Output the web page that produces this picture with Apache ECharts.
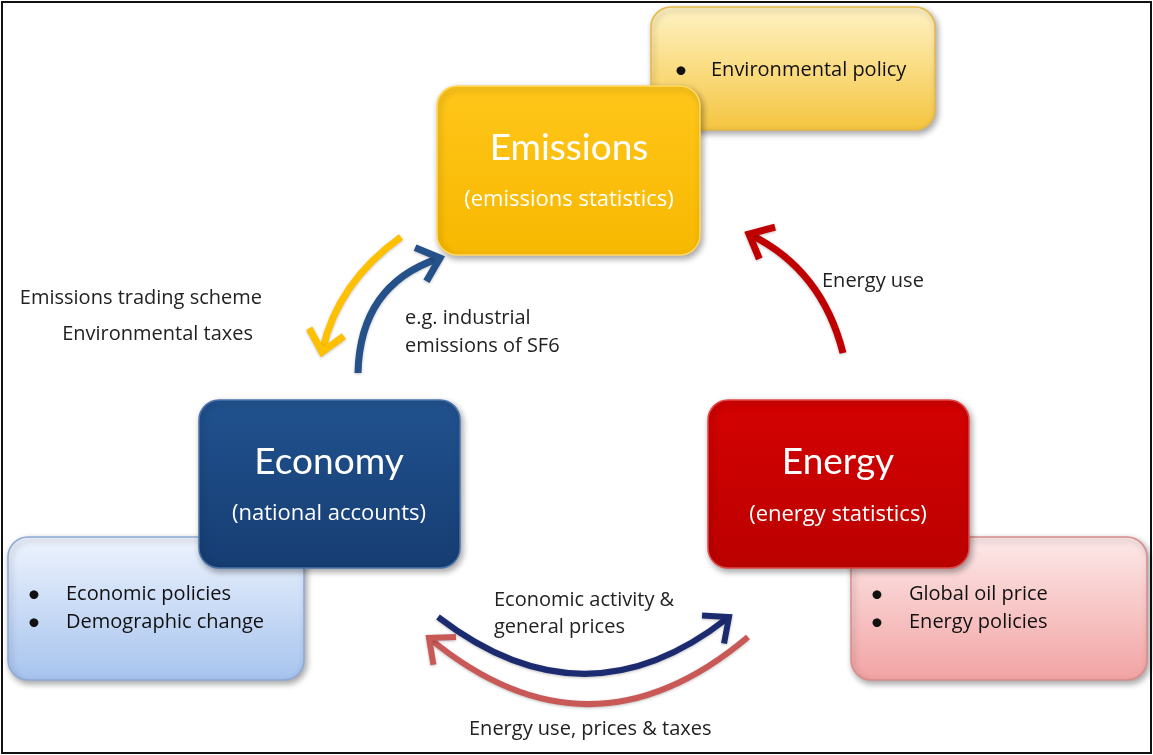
<!DOCTYPE html>
<html>
<head>
<meta charset="utf-8">
<script src="https://cdn.jsdelivr.net/npm/echarts@6.0.0/dist/echarts.min.js"></script>
<style>
  html, body { margin: 0; padding: 0; background: #fff; }
  #chart { width: 1153px; height: 755px; }
</style>
</head>
<body>
<div id="chart"></div>
<script>
  // diagram content
  var boxTitles = ['Emissions', 'Economy', 'Energy']
  var boxSubtitles = ['(emissions statistics)', '(national accounts)', '(energy statistics)']
  var envFactors = ['Environmental policy']
  var economyFactors = ['Economic policies', 'Demographic change']
  var energyFactors = ['Global oil price', 'Energy policies']
  var policyLabels = ['Emissions trading scheme', 'Environmental taxes']
  var industryLabels = ['e.g. industrial', 'emissions of SF6']
  var energyUseLabel = ['Energy use']
  var activityLabels = ['Economic activity &', 'general prices']
  var feedbackLabels = ['Energy use, prices & taxes']

  var TITLE_FONT = 'Lato, "Open Sans", sans-serif'
  var FONT = '"Open Sans", Lato, sans-serif'
  var chart = echarts.init(document.getElementById('chart'))

  function grad(c0, c1) {
    return new echarts.graphic.LinearGradient(0, 0, 0, 1, [
      { offset: 0, color: c0 },
      { offset: 1, color: c1 }
    ])
  }

  function box(x, y, w, h, c0, c1, stroke, z) {
    return {
      type: 'rect', z: z,
      shape: { x: x, y: y, width: w, height: h, r: 20 },
      style: {
        fill: grad(c0, c1), stroke: stroke, lineWidth: 1.5,
        shadowBlur: 6, shadowOffsetX: 2, shadowOffsetY: 3, shadowColor: 'rgba(0,0,0,0.35)'
      }
    }
  }

  function txt(str, x, y, size, color, align, z, family) {
    return {
      type: 'text', z: z || 20,
      style: {
        text: str, x: x, y: y, fill: color || '#222',
        font: size + 'px ' + (family || FONT), textAlign: align || 'left', textVerticalAlign: 'middle'
      }
    }
  }

  // bullet list inside a factor box
  function bullets(list, bx, tx, y0, step, z) {
    var out = []
    list.forEach(function (s, i) {
      out.push(txt('•', bx, y0 + i * step, 24, '#111', 'left', z, TITLE_FONT))
      out.push(txt(s, tx, y0 + i * step, 20, '#111', 'left', z))
    })
    return out
  }

  // curved arrow with open chevron head
  function arrow(p0, c, p1, color, w) {
    var dx = p1[0] - c[0], dy = p1[1] - c[1]
    var len = Math.sqrt(dx * dx + dy * dy)
    var bx = -dx / len, by = -dy / len
    var L = 27, a = 0.72
    function rot(ang) {
      return [p1[0] + L * (bx * Math.cos(ang) - by * Math.sin(ang)),
              p1[1] + L * (bx * Math.sin(ang) + by * Math.cos(ang))]
    }
    var st = { stroke: color, lineWidth: w, fill: null, shadowBlur: 3, shadowOffsetY: 1, shadowColor: 'rgba(0,0,0,0.25)' }
    return [
      { type: 'bezierCurve', z: 15,
        shape: { x1: p0[0], y1: p0[1], cpx1: c[0], cpy1: c[1], x2: p1[0] + bx * 2, y2: p1[1] + by * 2 },
        style: st },
      { type: 'polyline', z: 15,
        shape: { points: [rot(a), p1, rot(-a)] },
        style: Object.assign({}, st, { lineJoin: 'miter', lineCap: 'butt' }) }
    ]
  }

  var els = []
  // frame
  els.push({ type: 'rect', z: 1, shape: { x: 2, y: 2, width: 1149, height: 751 },
    style: { fill: '#fff', stroke: '#111', lineWidth: 2 } })

  // factor boxes (behind)
  els.push(box(651, 7, 284, 123, '#FFF3C4', '#F5C540', '#E6B84A', 5))
  els.push(box(8, 537, 296, 143, '#EEF4FE', '#A6C3EE', '#8EA9D6', 5))
  els.push(box(851, 537, 296, 143, '#FDE9E9', '#F2A3A3', '#D88C8C', 5))
  els = els.concat(bullets(envFactors, 674, 711, 70, 28, 12))
  els = els.concat(bullets(economyFactors, 27, 66, 594, 28, 12))
  els = els.concat(bullets(energyFactors, 870, 909, 594, 28, 12))

  // main boxes
  els.push(box(437, 86, 263, 169, '#FFC61A', '#F7B800', '#FFD966', 10))
  els.push(box(199, 400, 261, 168, '#21528F', '#163D72', '#4A74AA', 10))
  els.push(box(708, 400, 261, 168, '#D40202', '#BB0000', '#E04848', 10))
  var centers = [[569, 148, 200], [329, 462, 514], [838, 462, 515]]
  centers.forEach(function (c, i) {
    els.push(txt(boxTitles[i], c[0], c[1], 37, '#fff', 'center', 12, TITLE_FONT))
    els.push(txt(boxSubtitles[i], c[0], c[2], 22, '#fff', 'center', 12))
  })

  // arrows
  els = els.concat(arrow([401, 237], [338, 282], [322, 352], '#FFC000', 7))
  els = els.concat(arrow([358, 373], [360, 285], [440, 258], '#24518A', 7))
  els = els.concat(arrow([843, 353], [822, 270], [749, 234], '#C00000', 7))
  els = els.concat(arrow([438, 617], [585, 730], [729, 617], '#1C2B70', 6))
  els = els.concat(arrow([748, 637], [590, 770], [429, 638], '#C95957', 6))

  // flow labels
  els.push(txt(policyLabels[0], 262, 298, 20, '#222', 'right'))
  els.push(txt(policyLabels[1], 253, 334, 20, '#222', 'right'))
  els.push(txt(industryLabels[0], 405, 318, 20, '#222'))
  els.push(txt(industryLabels[1], 405, 346, 20, '#222'))
  els.push(txt(energyUseLabel[0], 822, 281, 20, '#222'))
  els.push(txt(activityLabels[0], 494, 600, 20, '#222'))
  els.push(txt(activityLabels[1], 494, 627, 20, '#222'))
  els.push(txt(feedbackLabels[0], 469, 729, 20, '#222'))

  chart.setOption({
    animation: false,
    graphic: { elements: els }
  })
</script>
</body>
</html>
